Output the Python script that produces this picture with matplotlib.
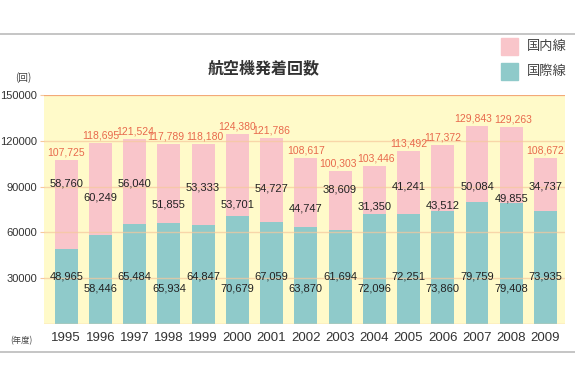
import matplotlib.pyplot as plt
import numpy as np
from matplotlib.lines import Line2D
from matplotlib.patches import Rectangle

plt.rcParams['font.family'] = ['Liberation Sans Narrow', 'Liberation Sans', 'DejaVu Sans']
JP = ['Noto Sans CJK JP', 'DejaVu Sans']

# data
years = ['1995', '1996', '1997', '1998', '1999', '2000', '2001', '2002',
         '2003', '2004', '2005', '2006', '2007', '2008', '2009']
domestic = [58760, 60249, 56040, 51855, 53333, 53701, 54727, 44747,
            38609, 31350, 41241, 43512, 50084, 49855, 34737]
international = [48965, 58446, 65484, 65934, 64847, 70679, 67059, 63870,
                 61694, 72096, 72251, 73860, 79759, 79408, 73935]
yticks = [30000, 60000, 90000, 120000, 150000]

# label heights (layout only), alternating so the numbers don't collide
dom_label_y = [91800, 82600, 91800, 78000, 89200, 78000, 88500, 75400,
               87900, 76700, 89800, 77400, 89800, 82000, 89800]
int_label_y = [30800, 23000] * 7 + [30800]
total_dx = [0, 0, 0, -0.08, 0.06, 0, 0, 0, -0.05, 0.05, 0, 0, -0.12, 0.05, 0]

pink = '#f9c5ca'
teal = '#8fcaca'
yellow = '#fffac9'
grid_c = '#f6c89c'
red = '#e8694c'

x = np.arange(len(years))
dom = np.array(domestic)
intl = np.array(international)
total = dom + intl

fig = plt.figure(figsize=(5.75, 3.71), dpi=100)
ax = fig.add_axes([0.0765, 0.1267, 0.906, 0.617])
ax.set_facecolor(yellow)

ax.bar(x, intl, width=0.67, color=teal, zorder=2)
ax.bar(x, dom, width=0.67, bottom=intl, color=pink, zorder=2)

for yv in yticks[:-1]:
    ax.axhline(yv, color=grid_c, lw=1.0, alpha=0.7, zorder=3)
ax.axhline(150000, color='#f3a978', lw=1.6, zorder=3)
ax.axhline(0, color=grid_c, lw=1.0, zorder=3)

for i in range(len(years)):
    ax.text(x[i] + total_dx[i], total[i] + 1500, f'{total[i]:,}', ha='center',
            va='bottom', fontsize=7.5, color=red, zorder=4)
    ax.text(x[i], dom_label_y[i], f'{dom[i]:,}', ha='center', va='center',
            fontsize=8, color='#222222', zorder=4)
    ax.text(x[i], int_label_y[i], f'{intl[i]:,}', ha='center', va='center',
            fontsize=8, color='#222222', zorder=4)

ax.set_xlim(-0.65, 14.57)
ax.set_ylim(0, 150000)
ax.set_xticks(x)
ax.set_xticklabels(years, fontsize=9.5, color='#333333')
ax.set_yticks(yticks)
ax.set_yticklabels([str(v) for v in yticks], fontsize=8, color='#333333')
ax.tick_params(axis='x', length=0, pad=6)
ax.tick_params(axis='y', length=3, color=grid_c, pad=2)
for s in ax.spines.values():
    s.set_visible(False)

# title, units, legend
fig.text(0.458, 0.815, '航空機発着回数', ha='center', va='center',
         fontsize=11.5, fontweight='bold', color='#333333', family=JP)
fig.text(0.04, 0.79, '(回)', ha='center', va='center', fontsize=7,
         color='#444444', family=JP)
fig.text(0.038, 0.081, '(年度)', ha='center', va='center', fontsize=6,
         color='#444444', family=JP)

for yy, col, lab in [(46.5, pink, '国内線'), (71.5, teal, '国際線')]:
    fig.patches.append(Rectangle((501 / 575, 1 - (yy + 8.5) / 371), 17 / 575, 17 / 371,
                                 color=col, transform=fig.transFigure))
    fig.text(547 / 575, 1 - yy / 371, lab, ha='center', va='center',
             fontsize=9.5, color='#444444', family=JP)

# thin gray rules at top and bottom
fig.add_artist(Line2D([0, 1], [1 - 34 / 371] * 2, color='#bbbbbb', lw=1.2,
                      transform=fig.transFigure))
fig.add_artist(Line2D([0, 1], [1 - 352 / 371] * 2, color='#bbbbbb', lw=1.2,
                      transform=fig.transFigure))

fig.savefig('out.png', dpi=100, facecolor='white')
